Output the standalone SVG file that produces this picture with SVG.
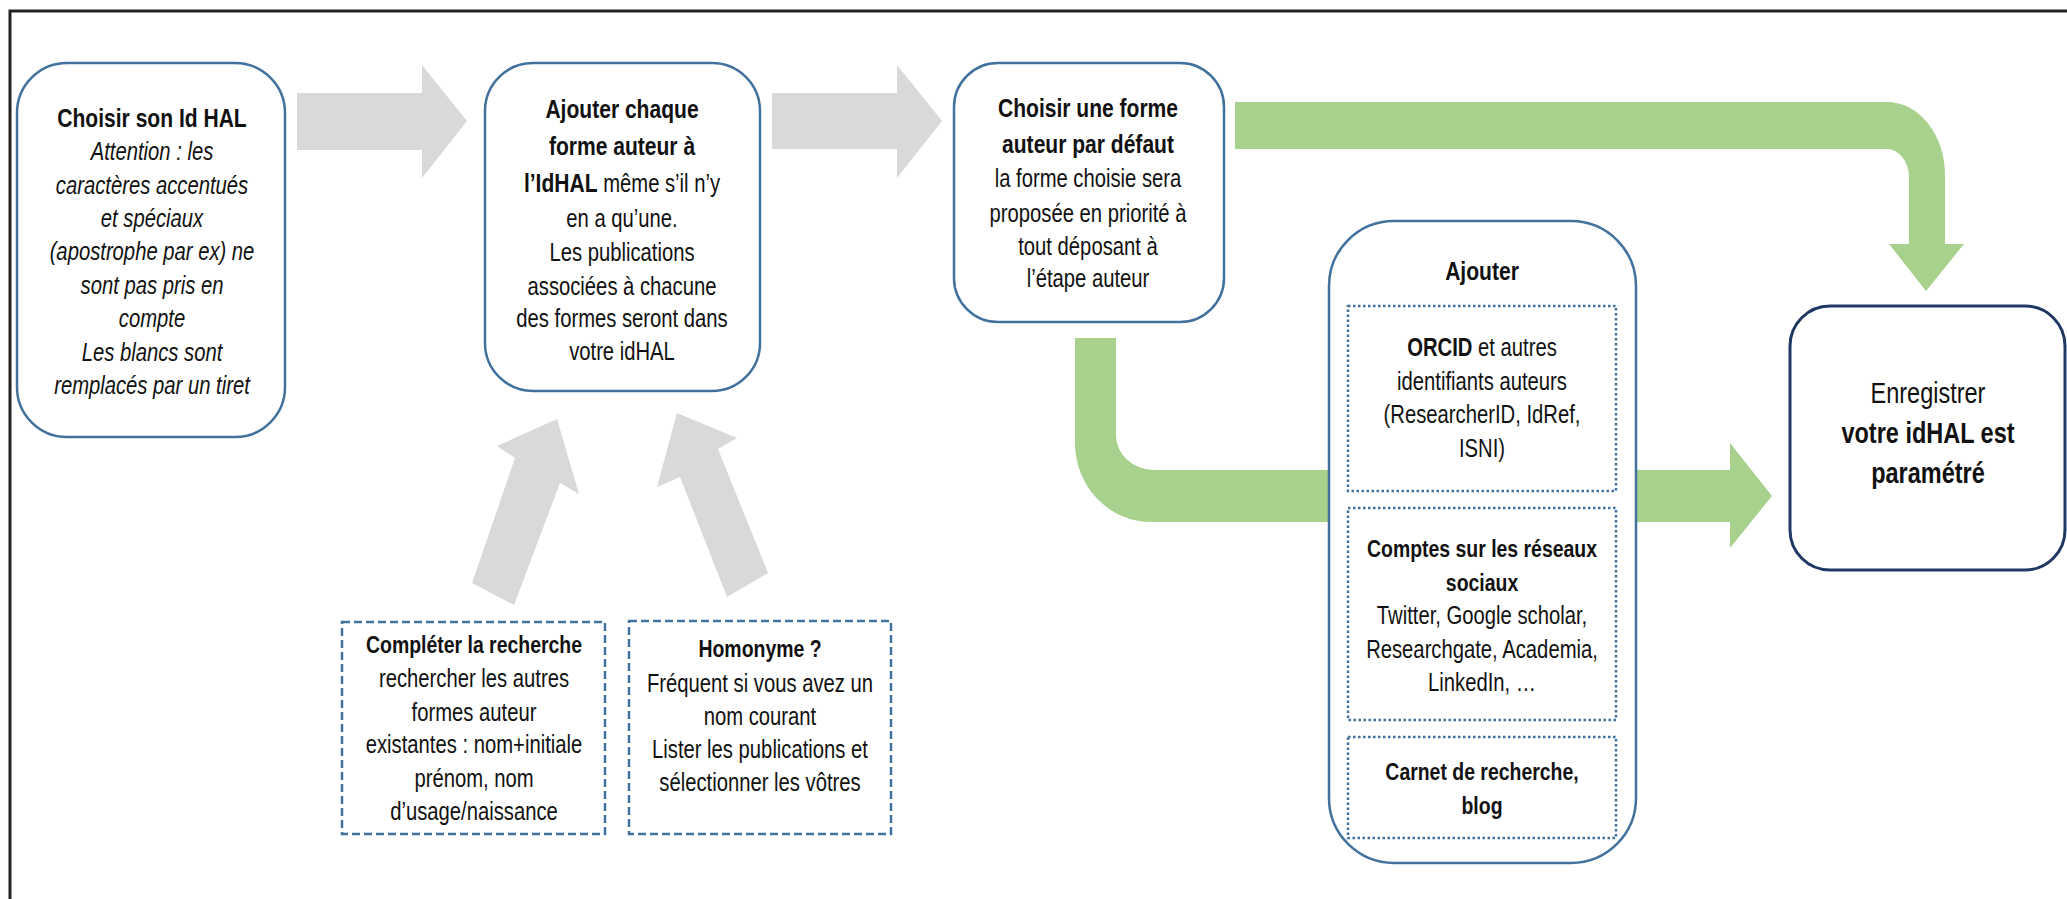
<svg xmlns="http://www.w3.org/2000/svg" width="2067" height="899" viewBox="0 0 2067 899">
<style>
.box{fill:#fff;stroke:#41719c;stroke-width:2.5}
.tgt{fill:#fff;stroke:#1f3864;stroke-width:3}
.dash{fill:#fff;stroke:#41719c;stroke-width:2.5;stroke-dasharray:8 4}
.dot{fill:none;stroke:#41719c;stroke-width:2.5;stroke-dasharray:2.5 2.5}
.gray{fill:#d9d9d9}
.green{fill:#a9d18e}
text{font-family:"Liberation Sans",Arial,sans-serif;font-size:25px;fill:#111;text-anchor:middle}
.b{font-weight:bold}
.t{font-size:26px;font-weight:bold}
.s{font-size:24px;font-weight:bold}
.i{font-style:italic}
.big{font-size:29px}
</style>
<rect width="2067" height="899" fill="#fff"/>
<path d="M10,899 V11 H2067" fill="none" stroke="#222" stroke-width="3"/>
<g id="connectors">
<polygon class="gray" points="297,93 422,93 422,65 467,121 422,178 422,150 297,150"/>
<polygon class="gray" points="772,93 897,93 897,65 942,121 897,178 897,149 772,149"/>
<polygon class="gray" points="557,419 579,494 560,483 514,605 472,583 515,458 497,446"/>
<polygon class="gray" points="677,413 737,438 718,449 768,573 727,597 680,477 657,487"/>
<path class="green" d="M1235,102 H1887 A58,73 0 0 1 1945,175 V244 H1964 L1926,291 L1889,244 H1909 V177 A22,28 0 0 0 1887,149 H1235 Z"/>
<path class="green" d="M1075,338 H1116 V435 A38,35 0 0 0 1154,470 H1730 V443 L1772,496 L1730,548 V522 H1151 A76,79 0 0 1 1075,443 Z"/>
</g>
<g id="n1">
<rect class="box" x="17" y="63" width="268" height="374" rx="50"/>
<g transform="translate(152,0) scale(0.81,1)">
<text class="t" y="127">Choisir son Id HAL</text>
<text class="i" y="160">Attention : les</text>
<text class="i" y="194">caractères accentués</text>
<text class="i" y="227">et spéciaux</text>
<text class="i" y="260">(apostrophe par ex) ne</text>
<text class="i" y="294">sont pas pris en</text>
<text class="i" y="327">compte</text>
<text class="i" y="361">Les blancs sont</text>
<text class="i" y="394">remplacés par un tiret</text>
</g>
</g>
<g id="n2">
<rect class="box" x="485" y="63" width="275" height="328" rx="48"/>
<g transform="translate(622,0) scale(0.81,1)">
<text class="t" y="118">Ajouter chaque</text>
<text class="t" y="155">forme auteur à</text>
<text y="192"><tspan class="t">l’IdHAL</tspan> même s’il n’y</text>
<text y="227">en a qu’une.</text>
<text y="261">Les publications</text>
<text y="295">associées à chacune</text>
<text y="327">des formes seront dans</text>
<text y="360">votre idHAL</text>
</g>
</g>
<g id="n3">
<rect class="box" x="954" y="63" width="270" height="259" rx="44"/>
<g transform="translate(1088,0) scale(0.81,1)">
<text class="t" y="117">Choisir une forme</text>
<text class="t" y="153">auteur par défaut</text>
<text y="187">la forme choisie sera</text>
<text y="222">proposée en priorité à</text>
<text y="255">tout déposant à</text>
<text y="287">l’étape auteur</text>
</g>
</g>
<g id="n4">
<rect class="dash" x="342" y="622" width="263" height="212"/>
<g transform="translate(474,0) scale(0.81,1)">
<text class="s" y="653">Compléter la recherche</text>
<text y="687">rechercher les autres</text>
<text y="721">formes auteur</text>
<text y="753">existantes : nom+initiale</text>
<text y="787">prénom, nom</text>
<text y="820">d’usage/naissance</text>
</g>
</g>
<g id="n5">
<rect class="dash" x="629" y="621" width="262" height="213"/>
<g transform="translate(760,0) scale(0.81,1)">
<text class="s" y="657">Homonyme ?</text>
<text y="692">Fréquent si vous avez un</text>
<text y="725">nom courant</text>
<text y="758">Lister les publications et</text>
<text y="791">sélectionner les vôtres</text>
</g>
</g>
<g id="n6">
<rect class="box" x="1329" y="221" width="307" height="642" rx="65"/>
<rect class="dot" x="1348" y="306" width="268" height="185"/>
<rect class="dot" x="1348" y="508" width="268" height="212"/>
<rect class="dot" x="1348" y="737" width="268" height="101"/>
<g transform="translate(1482,0) scale(0.81,1)">
<text class="t" y="280">Ajouter</text>
<text y="356"><tspan class="b">ORCID</tspan> et autres</text>
<text y="390">identifiants auteurs</text>
<text y="423">(ResearcherID, IdRef,</text>
<text y="457">ISNI)</text>
<text class="s" y="557">Comptes sur les réseaux</text>
<text class="s" y="591">sociaux</text>
<text y="624">Twitter, Google scholar,</text>
<text y="658">Researchgate, Academia,</text>
<text y="691">LinkedIn, …</text>
<text class="s" y="780">Carnet de recherche,</text>
<text class="s" y="814">blog</text>
</g>
</g>
<g id="n7">
<rect class="tgt" x="1790" y="306" width="275" height="264" rx="40"/>
<g transform="translate(1928,0) scale(0.81,1)">
<text class="big" y="403">Enregistrer</text>
<text class="big b" y="443">votre idHAL est</text>
<text class="big b" y="483">paramétré</text>
</g>
</g>
</svg>
